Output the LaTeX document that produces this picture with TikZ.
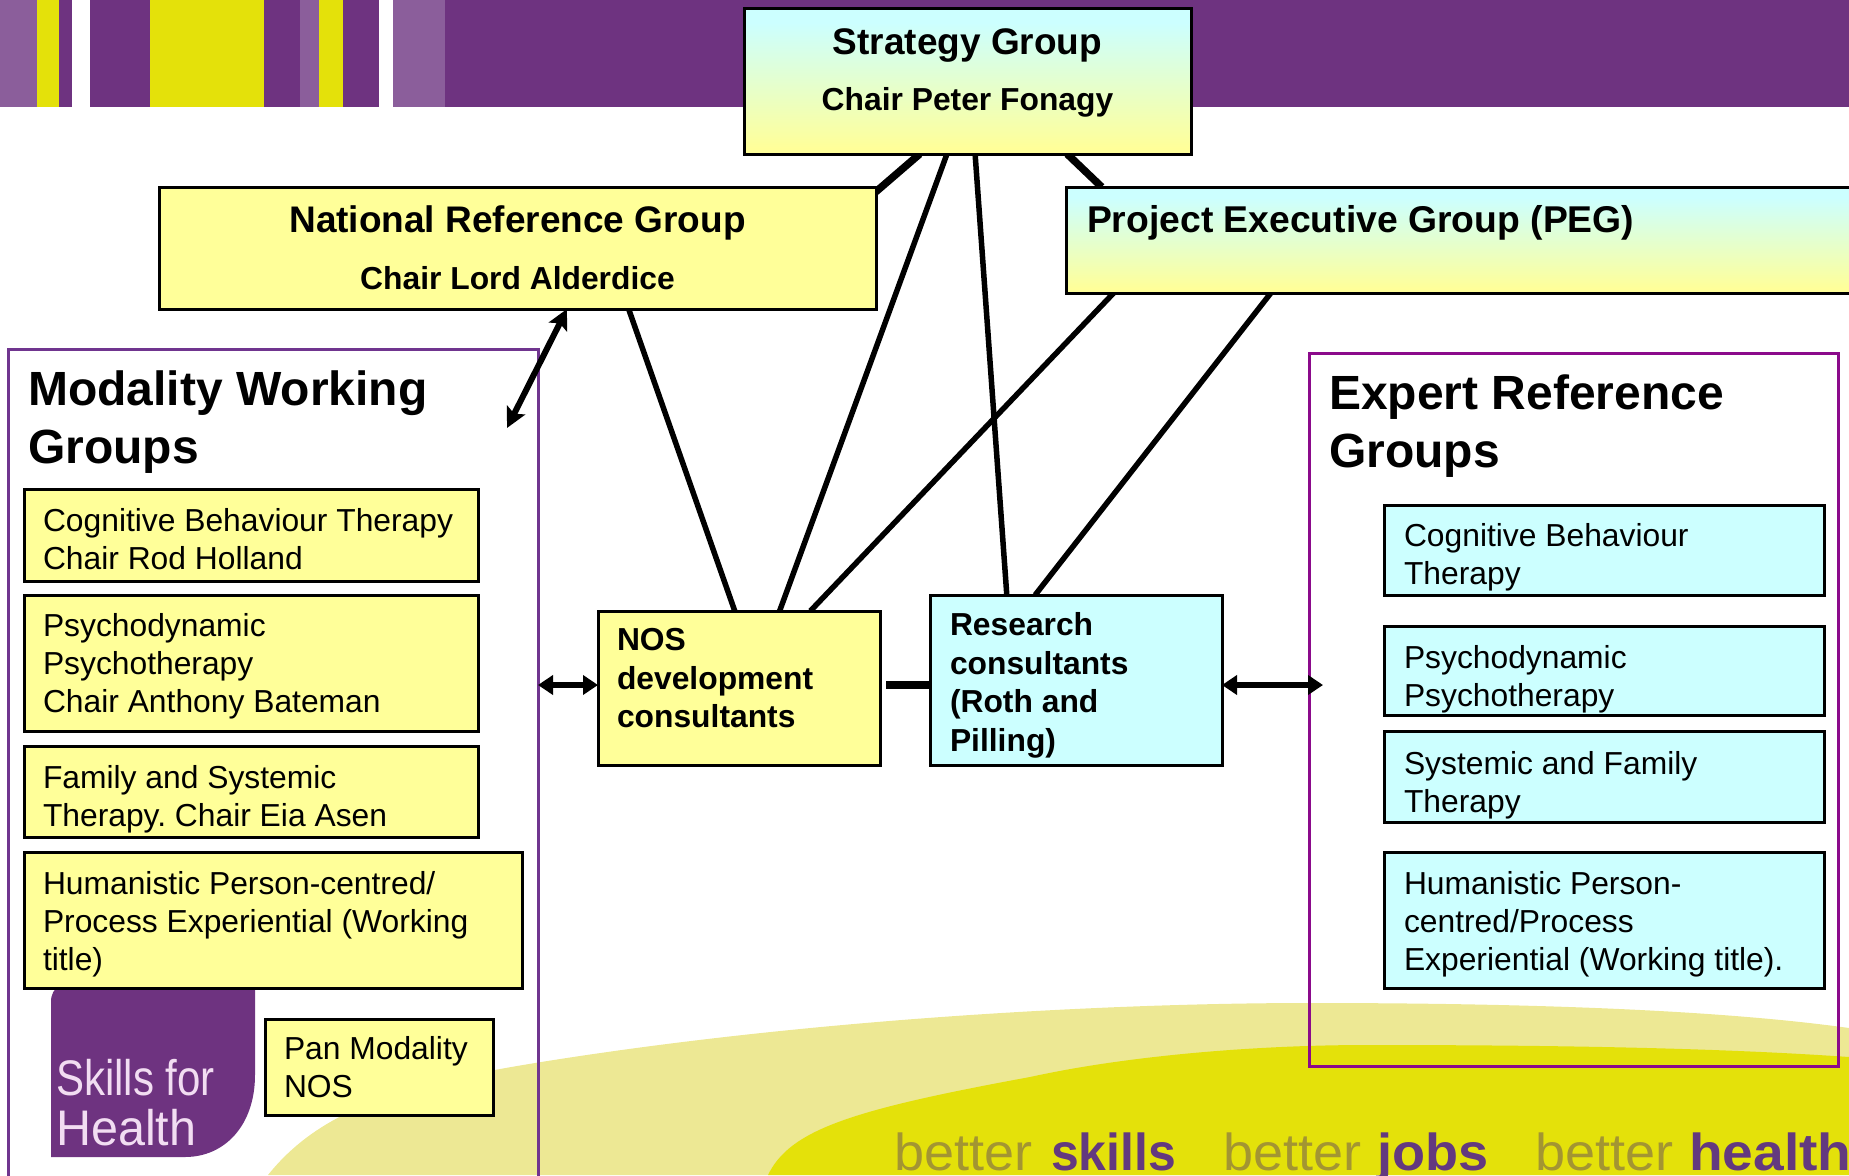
\documentclass[tikz,border=0pt]{standalone}
\usepackage{fontspec}
\setmainfont{Liberation Sans}
\usetikzlibrary{calc,arrows.meta}
\frenchspacing
\definecolor{bandpurple}{HTML}{6E3380}
\definecolor{bandlight}{HTML}{8B5E9B}
\definecolor{bandyellow}{HTML}{E4E10A}
\definecolor{paleyellow}{HTML}{EDE894}
\definecolor{boxyellow}{HTML}{FFFF99}
\definecolor{boxcyan}{HTML}{CCFFFF}
\definecolor{modoutline}{HTML}{70358F}
\definecolor{expoutline}{HTML}{8B0A8B}
\definecolor{betterc}{HTML}{A39532}
\definecolor{wordc}{HTML}{63397F}
\definecolor{logotext}{HTML}{F2DDF2}
\pgfdeclareverticalshading{boxgrad}{100bp}{color(0bp)=(boxyellow); color(27bp)=(boxyellow); color(70bp)=(boxcyan); color(100bp)=(boxcyan)}
\pgfdeclarelayer{back}
\pgfdeclarelayer{conn}
\pgfsetlayers{back,conn,main}
\newcommand{\chairline}[1]{{\fontsize{31.8}{38}\selectfont #1}}
\tikzset{
  x=1pt,y=-1pt,
  boxbase/.style={draw=black,line width=3pt,inner xsep=19pt,inner ysep=0pt,outer sep=0pt,align=flush left},
  sized/.style 2 args={minimum width=#1pt,minimum height=#2pt,text width=#1pt-38pt},
  ybox/.style={boxbase,fill=boxyellow,font=\fontsize{31.8}{38}\selectfont},
  cbox/.style={boxbase,fill=boxcyan,inner xsep=20pt,font=\fontsize{31.8}{38}\selectfont},
  yboldbox/.style={ybox,font=\fontsize{31.8}{38.5}\selectfont\bfseries},
  cboldbox/.style={cbox,font=\fontsize{31.8}{38.5}\selectfont\bfseries},
  headbox/.style={boxbase,align=center,font=\fontsize{37}{58}\selectfont\bfseries},
  gradbox/.style={shade,shading=boxgrad},
  groupframe/.style={line width=3pt,inner sep=0pt,outer sep=0pt},
  grouptitle/.style={anchor=north west,inner sep=0pt,align=flush left,font=\fontsize{48}{58}\selectfont\bfseries},
  link/.style={draw=black,line width=5.5pt},
  heavylink/.style={draw=black,line width=7.5pt},
  twoway/.style={draw=black,line width=6pt,{Triangle[length=15pt,width=19pt]}-{Triangle[length=15pt,width=19pt]}},
  thinway/.style={draw=black,line width=6pt,{Stealth[length=20pt,width=20pt,inset=4pt]}-{Stealth[length=20pt,width=20pt,inset=4pt]}},
  strapline/.style={anchor=base west,inner sep=0pt,text=betterc,font=\fontsize{52}{52}\selectfont},
  strapbold/.style={anchor=base west,inner sep=0pt,text=wordc,font=\fontsize{52}{52}\selectfont\bfseries},
  logoword/.style={anchor=base west,inner sep=0pt,text=logotext,font=\fontsize{50}{50}\selectfont},
}
\begin{document}
\begin{tikzpicture}
\useasboundingbox (0,0) rectangle (1849,1175);

\begin{pgfonlayer}{back}
  % banner
  \fill[bandpurple] (0,0) rectangle (1849,107);
  \fill[bandlight] (0,0) rectangle (37,107);
  \fill[bandyellow] (37,0) rectangle (59,107);
  \fill[white] (72,0) rectangle (90,107);
  \fill[bandyellow] (150,0) rectangle (264,107);
  \fill[bandlight] (300,0) rectangle (319,107);
  \fill[bandyellow] (319,0) rectangle (343,107);
  \fill[white] (379,0) rectangle (393,107);
  \fill[bandlight] (393,0) rectangle (445,107);
  % swooshes
  \fill[paleyellow] (268,1175) .. controls (320,1110) and (400,1085) .. (535,1063)
     .. controls (800,1020) and (1100,1003) .. (1310,1003)
     .. controls (1530,1003) and (1720,1010) .. (1849,1028) -- (1849,1175) -- cycle;
  \fill[bandyellow] (768,1175) .. controls (790,1130) and (850,1110) .. (1030,1077)
     .. controls (1130,1055) and (1260,1045) .. (1367,1045)
     .. controls (1560,1045) and (1720,1048) .. (1849,1057) -- (1849,1175) -- cycle;
  % logo
  \fill[bandpurple] (51,1002) .. controls (51,994) and (54,989) .. (60,985) -- (255,985) -- (255,1075)
     .. controls (255,1125) and (225,1157) .. (185,1157) -- (51,1157) -- cycle;
  \node[logoword] (logoa) at (56,1095) {\scalebox{0.84}[1]{Skills for}};
  \node[logoword] (logob) at (56,1145) {\scalebox{0.97}[1]{Health}};
  % strapline
  \node[strapline] (b1) at (894,1170) {\scalebox{1.04}[1]{better}};
  \node[strapbold] (w1) at (1051,1170) {\scalebox{0.96}[1]{skills}};
  \node[strapline] (b2) at (1223,1170) {\scalebox{1.04}[1]{better}};
  \node[strapbold] (w2) at (1377,1170) {\scalebox{1.04}[1]{jobs}};
  \node[strapline] (b3) at (1535,1170) {\scalebox{1.04}[1]{better}};
  \node[strapbold] (w3) at (1689,1170) {\scalebox{1.06}[1]{health}};
  % group frames
  \node[groupframe,draw=modoutline,minimum width=530pt,minimum height=830pt] (mod) at (273,764) {};
  \node[groupframe,draw=expoutline,minimum width=529pt,minimum height=713pt] (expg) at (1573.5,709.5) {};
\end{pgfonlayer}

% top boxes
\node[headbox,gradbox,minimum width=447pt,minimum height=146pt,text depth=22pt] (strat) at (967.5,81)
  {Strategy Group\\[-2pt]\chairline{Chair Peter Fonagy}};
\node[headbox,fill=boxyellow,minimum width=717pt,minimum height=122pt] (nrg) at (517.5,248)
  {National Reference Group\\[-1pt]\chairline{Chair Lord Alderdice}};
\node[headbox,gradbox,align=flush left,inner xsep=21pt,minimum width=794pt,minimum height=106pt,text width=752pt,text depth=42pt,font=\fontsize{37.3}{58}\selectfont\bfseries] (peg) at (1463,240)
  {Project Executive Group (PEG)};

% titles
\node[grouptitle] (modt) at (28,371) {Modality Working\\Groups};
\node[grouptitle] (expt) at (1329,375) {Expert Reference\\Groups};

% modality boxes
\node[ybox,sized={454}{92},text depth=31pt] (m1) at (251,535) {Cognitive Behaviour Therapy\\Chair Rod Holland};
\node[ybox,sized={454}{136},text depth=77pt] (m2) at (251,663) {Psychodynamic\\Psychotherapy\\Chair Anthony Bateman};
\node[ybox,sized={454}{91},text depth=30pt] (m3) at (251,791.5) {Family and Systemic\\Therapy. Chair Eia Asen};
\node[ybox,sized={498}{136},text depth=75pt] (m4) at (273,920) {Humanistic Person-centred/\\Process Experiential (Working\\title)};
\node[ybox,sized={228}{96},text depth=39pt] (m5) at (379,1067) {Pan Modality\\NOS};

% expert boxes
\node[cbox,sized={440}{90},text width=400pt,text depth=31pt] (e1) at (1604,550) {Cognitive Behaviour\\Therapy};
\node[cbox,sized={440}{89},text width=400pt,text depth=28pt] (e2) at (1604,670.5) {Psychodynamic\\Psychotherapy};
\node[cbox,sized={440}{91},text width=400pt,text depth=28pt] (e3) at (1604,776.5) {Systemic and Family\\Therapy};
\node[cbox,sized={440}{136},text width=400pt,text depth=75pt] (e4) at (1604,920) {Humanistic Person-\\centred/Process\\Experiential (Working title).};

% consultants
\node[yboldbox,sized={282}{154},text depth=97pt] (nos) at (739,688) {NOS\\development\\consultants};
\node[cboldbox,sized={292}{170},text width=252pt,text depth=112pt] (res) at (1076,680) {Research\\consultants\\(Roth and\\Pilling)};

\coordinate (armY) at (0,685);
\coordinate (rightEnd) at (1323,685);
\coordinate (nrgArrowEnd) at (507,428);
\coordinate (gapEnd) at (886,685);

\begin{pgfonlayer}{conn}
  \draw[heavylink] ($(strat.south west)!0.393!(strat.south east)$) -- ($(nrg.north east)+(-12,15)$);
  \draw[heavylink] ($(strat.south west)!0.723!(strat.south east)$) -- ($(peg.north west)!0.045!(peg.north east)$);
  \draw[link] ($(nos.north west)!0.485!(nos.north east)$) -- ($(nrg.south west)!0.655!(nrg.south east)$);
  \draw[link] ($(nos.north west)!0.644!(nos.north east)$) -- ($(strat.south west)!0.454!(strat.south east)$);
  \draw[link] ($(nos.north west)!0.753!(nos.north east)$) -- ($(peg.south west)!0.06!(peg.south east)$);
  \draw[link] ($(res.north west)!0.263!(res.north east)$) -- ($(strat.south west)!0.517!(strat.south east)$);
  \draw[link] ($(res.north west)!0.36!(res.north east)$) -- ($(peg.south west)!0.258!(peg.south east)$);
  \draw[heavylink] (gapEnd) -- (gapEnd -| res.west);
  \draw[twoway] (armY -| mod.east) -- (armY -| nos.west);
  \draw[twoway] (armY -| res.east) -- (rightEnd);
  \draw[thinway] ($(nrg.south west)!0.569!(nrg.south east)$) -- (nrgArrowEnd);
\end{pgfonlayer}
\end{tikzpicture}
\end{document}
